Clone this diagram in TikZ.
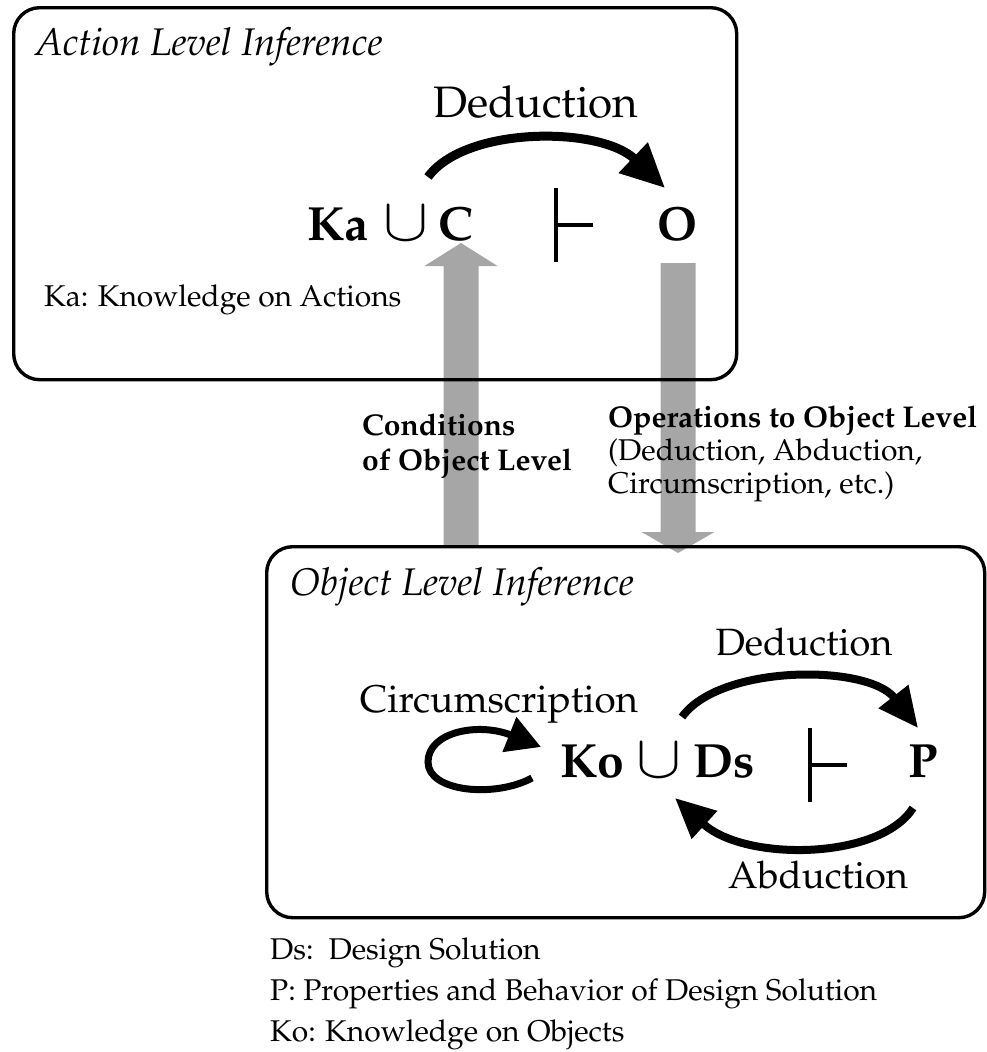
\documentclass[tikz,border=0pt]{standalone}
\usepackage[T1]{fontenc}
\usepackage{mathpazo}
\usetikzlibrary{arrows.meta,backgrounds,calc}
\newcommand{\setfs}[1]{\fontsize{#1}{#1}\selectfont}
\newcommand{\unionsym}{\setfs{48}\scalebox{1.35}[1.22]{$\cup$}}
\begin{document}
\begin{tikzpicture}[x=1pt,y=-1pt,
  frame/.style={draw=black,line width=3.4pt,rounded corners=26pt,inner sep=0pt},
  fat/.style={fill=black!35,draw=none},
  bendarrow/.style={line width=9pt,-{Triangle[length=44pt,width=40pt]}},
  bendarrowsm/.style={line width=8pt,-{Triangle[length=40pt,width=36pt]}},
  lbl/.style={inner sep=0pt,anchor=base},
  lblw/.style={inner sep=0pt,anchor=base west},
  formula/.style={inner sep=0pt,anchor=base west,font=\setfs{48}\bfseries},
  turn/.style={line width=4.5pt}]
\useasboundingbox (0,0) rectangle (986,1052);

% the two inference levels
\node[frame,anchor=north west,minimum width=723pt,minimum height=372pt] (actbox) at (12,6) {};
\node[frame,anchor=north west,minimum width=718pt,minimum height=371pt] (objbox) at (265,545) {};

% action level
\node[lblw] (acttitle) at (35,55) {\setfs{38.5}\itshape Action Level Inference};
\node[lbl] (ded1) at (536,117) {\setfs{44}Deduction};
\node[formula] (ka) at (307,240) {Ka};
\node[lbl] (cup1) at (406,240) {\unionsym};
\node[formula] (c) at (438,240) {C};
\node[formula] (o) at (657,240) {O};
\node[lblw] (kalegend) at (44,306) {\setfs{30}Ka: Knowledge on Actions};

\coordinate (t1) at (556,188);
\draw[turn] (t1) -- ++(0,74) (t1) ++(0,37) -- ++(37,0);

\coordinate (d1s) at (428,177);
\coordinate (d1e) at (665,188);
\draw[bendarrow] (d1s) .. controls (465,126) and (600,126) .. (d1e);

% between the levels
\node[lblw] (cond1) at (362,435) {\setfs{30}\bfseries Conditions};
\node[lblw] (cond2) at (362,470) {\setfs{30}\bfseries of Object Level};
\node[lblw] (op1) at (608,427) {\setfs{30}\bfseries Operations to Object Level};
\node[lblw] (op2) at (608,460) {\setfs{30}(Deduction, Abduction,};
\node[lblw] (op3) at (608,493) {\setfs{30}Circumscription, etc.)};

% object level
\node[lblw] (objtitle) at (290,595) {\setfs{38.5}\itshape Object Level Inference};
\node[lbl] (ded2) at (804,655) {\setfs{38}Deduction};
\node[lbl] (circ) at (499,712) {\setfs{38.6}Circumscription};
\node[formula] (ko) at (560,777) {Ko};
\node[lbl] (cup2) at (659,777) {\unionsym};
\node[formula] (ds) at (693,777) {Ds};
\node[formula] (p) at (908,777) {P};
\node[lbl] (abd) at (818,888) {\setfs{38}Abduction};

\coordinate (t2) at (810,728);
\draw[turn] (t2) -- ++(0,74) (t2) ++(0,37) -- ++(37,0);

\coordinate (d2s) at (682,717);
\coordinate (d2e) at (918,728);
\draw[bendarrowsm] (d2s) .. controls (720,664) and (868,664) .. (d2e);

\coordinate (a2s) at (913,808);
\coordinate (a2e) at (675,798);
\draw[bendarrowsm] (a2s) .. controls (880,860) and (745,862) .. (a2e);

\coordinate (c2s) at (532,778);
\coordinate (c2e) at (541,747);
\draw[line width=7pt,-{Triangle[length=34pt,width=36pt]}] (c2s) .. controls (495,798) and (428,792) .. (428,762)
  .. controls (428,732) and (478,722) .. (c2e);

% legend
\node[lblw] (lg1) at (270,959) {\setfs{30}Ds:\ \ Design Solution};
\node[lblw] (lg2) at (270,1000) {\setfs{30}P: Properties and Behavior of Design Solution};
\node[lblw] (lg3) at (270,1041) {\setfs{30}Ko: Knowledge on Objects};

% wide arrows passing between the levels
\coordinate (upfoot) at (461,545);
\coordinate (uptip) at (461,243);
\coordinate (dnfoot) at (678,263);
\coordinate (dntip) at (678,553);
\begin{scope}[on background layer]
  \fill[fat] ($(upfoot)+(-17.5,0)$) -- ($(uptip)+(-17.5,23)$) -- ($(uptip)+(-36.5,23)$) -- (uptip)
    -- ($(uptip)+(36.5,23)$) -- ($(uptip)+(17.5,23)$) -- ($(upfoot)+(17.5,0)$) -- cycle;
  \fill[fat] ($(dnfoot)+(-17.5,0)$) -- ($(dntip)+(-17.5,-21)$) -- ($(dntip)+(-36.5,-21)$) -- (dntip)
    -- ($(dntip)+(36.5,-21)$) -- ($(dntip)+(17.5,-21)$) -- ($(dnfoot)+(17.5,0)$) -- cycle;
\end{scope}
\end{tikzpicture}
\end{document}
